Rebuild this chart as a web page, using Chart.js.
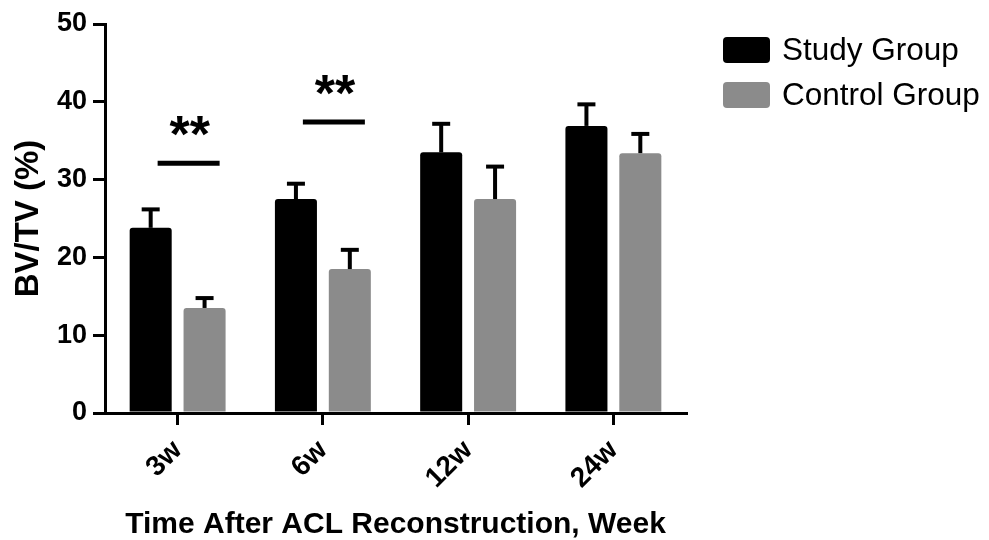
<!DOCTYPE html>
<html>
<head>
<meta charset="utf-8">
<script src="https://cdn.jsdelivr.net/npm/chart.js@4/dist/chart.umd.min.js"></script>
<style>
  html, body { margin: 0; padding: 0; background: #fff; }
  #wrap { width: 989px; height: 540px; }
</style>
</head>
<body>
<div id="wrap"><canvas id="chart"></canvas></div>
<script>
// data
const weeks = ["3w", "6w", "12w", "24w"];
const studyMean = [23.8, 27.5, 33.5, 36.9];
const studyErr = [2.5, 2.1, 3.8, 2.9];
const controlMean = [13.5, 18.5, 27.5, 33.4];
const controlErr = [1.4, 2.6, 4.3, 2.6];
const yTicks = [0, 10, 20, 30, 40, 50];
// significance bars: category index and height (y units)
const sigIndex = [0, 1];
const sigLevel = [32.1, 37.4];
const sigLabel = ["**", "**"];

const FONT = "'Liberation Sans', Arial, sans-serif";

const errorBars = {
    id: "errorBars",
    afterDatasetsDraw(chart) {
        const ctx = chart.ctx;
        const y = chart.scales.y;
        ctx.save();
        ctx.strokeStyle = "#000";
        chart.data.datasets.forEach((ds, di) => {
            const meta = chart.getDatasetMeta(di);
            meta.data.forEach((bar, i) => {
                const top = y.getPixelForValue(ds.data[i] + ds.errors[i]);
                // stem
                ctx.lineWidth = 4;
                ctx.beginPath();
                ctx.moveTo(bar.x, bar.y);
                ctx.lineTo(bar.x, top);
                ctx.stroke();
                // cap
                ctx.beginPath();
                ctx.moveTo(bar.x - 9, top + 1);
                ctx.lineTo(bar.x + 9, top + 1);
                ctx.stroke();
            });
        });
        ctx.restore();
    }
};

const significance = {
    id: "significance",
    afterDatasetsDraw(chart) {
        const ctx = chart.ctx;
        const x = chart.scales.x;
        const y = chart.scales.y;
        ctx.save();
        sigIndex.forEach((idx, k) => {
            const cx = x.getPixelForValue(idx) + 11;
            const py = y.getPixelForValue(sigLevel[k]);
            ctx.strokeStyle = "#000";
            ctx.lineWidth = 5;
            ctx.beginPath();
            ctx.moveTo(cx - 31, py);
            ctx.lineTo(cx + 31, py);
            ctx.stroke();
            ctx.fillStyle = "#000";
            ctx.font = "bold 52px " + FONT;
            ctx.textAlign = "center";
            ctx.textBaseline = "alphabetic";
            ctx.fillText(sigLabel[k], cx + 1, py - 11);
        });
        ctx.restore();
    }
};

const sideLegend = {
    id: "sideLegend",
    afterDraw(chart) {
        const ctx = chart.ctx;
        ctx.save();
        chart.data.datasets.forEach((ds, i) => {
            const top = 37 + i * 45;
            ctx.fillStyle = ds.backgroundColor;
            ctx.beginPath();
            ctx.roundRect(723, top, 47, 26, 4);
            ctx.fill();
            ctx.fillStyle = "#000";
            ctx.font = "31.5px " + FONT;
            ctx.textAlign = "left";
            ctx.textBaseline = "middle";
            ctx.fillText(ds.label, 782, top + 14);
        });
        ctx.restore();
    }
};

new Chart(document.getElementById("chart").getContext("2d"), {
    type: "bar",
    data: {
        labels: weeks,
        datasets: [{
            label: "Study Group",
            data: studyMean,
            errors: studyErr,
            backgroundColor: "#000000",
            borderRadius: 3,
            borderSkipped: "bottom",
        }, {
            label: "Control Group",
            data: controlMean,
            errors: controlErr,
            backgroundColor: "#8b8b8b",
            borderRadius: 3,
            borderSkipped: "bottom",
        }]
    },
    options: {
        responsive: true,
        maintainAspectRatio: false,
        animation: false,
        categoryPercentage: 0.742,
        barPercentage: 0.78,
        layout: {
            padding: { left: 0, right: 303, top: 24, bottom: 0 }
        },
        plugins: {
            legend: { display: false },
            tooltip: { enabled: false },
        },
        scales: {
            x: {
                afterFit(scale) { scale.height = 127; },
                grid: {
                    offset: false,
                    drawOnChartArea: false,
                    color: "#000",
                    lineWidth: 3,
                    tickLength: 12,
                },
                border: { display: true, color: "#000", width: 3 },
                ticks: {
                    color: "#000",
                    minRotation: 45,
                    maxRotation: 45,
                    padding: 9,
                    font: { family: FONT, size: 28, weight: "bold" },
                },
                title: {
                    display: true,
                    text: "Time After ACL Reconstruction, Week",
                    color: "#000",
                    padding: { top: 0, bottom: 0 },
                    font: { family: FONT, size: 30, weight: "bold", lineHeight: 1.0 },
                },
            },
            y: {
                min: 0,
                max: 50,
                afterFit(scale) { scale.width = 105; },
                afterBuildTicks(scale) { scale.ticks = yTicks.map(v => ({ value: v })); },
                grid: {
                    drawOnChartArea: false,
                    color: "#000",
                    lineWidth: 3,
                    tickLength: 12,
                },
                border: { display: true, color: "#000", width: 3 },
                ticks: {
                    color: "#000",
                    padding: 6,
                    font: { family: FONT, size: 27, weight: "bold" },
                },
                title: {
                    display: true,
                    text: "BV/TV (%)",
                    color: "#000",
                    padding: { top: 9, bottom: 0 },
                    font: { family: FONT, size: 33, weight: "bold", lineHeight: 1.2 },
                },
            }
        }
    },
    plugins: [errorBars, significance, sideLegend]
});
</script>
</body>
</html>
